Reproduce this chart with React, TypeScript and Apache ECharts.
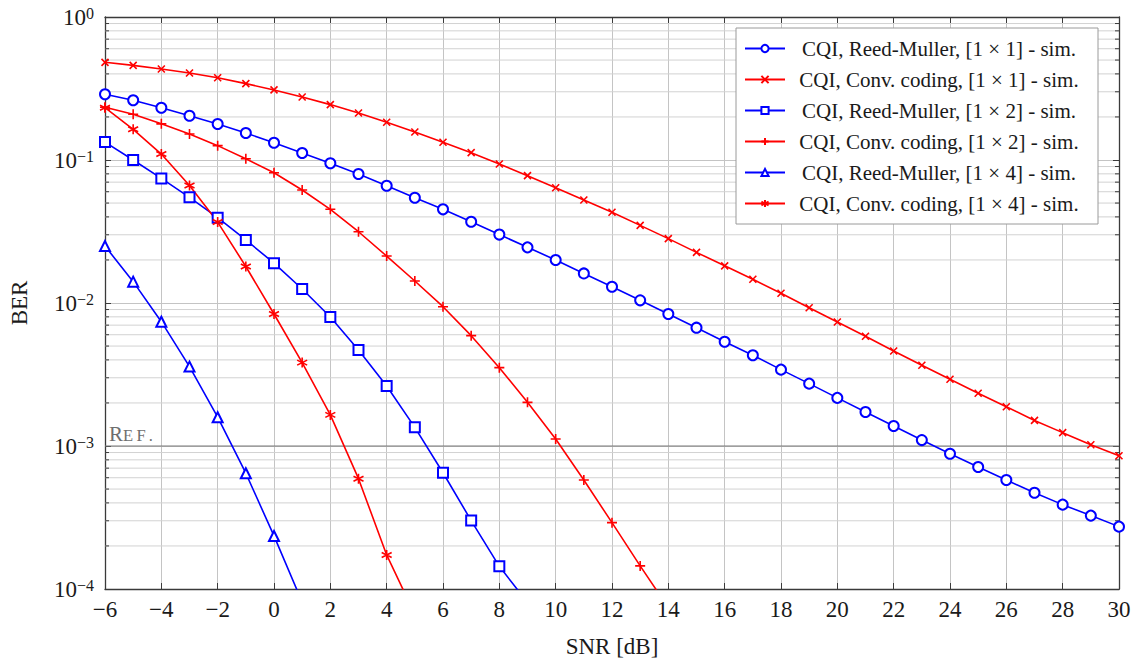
import React, { useEffect, useRef } from "react";
import * as echarts from "echarts";

// ---- data ----
const SNR = [-6, -5, -4, -3, -2, -1, 0, 1, 2, 3, 4, 5, 6, 7, 8, 9, 10, 11, 12, 13, 14, 15, 16, 17, 18, 19, 20, 21, 22, 23, 24, 25, 26, 27, 28, 29, 30];

const rm1x1 = [0.288, 0.2616, 0.232, 0.204, 0.1786, 0.1545, 0.132, 0.112, 0.0949, 0.0798, 0.0661, 0.0545, 0.0452, 0.037, 0.0301, 0.0245, 0.02, 0.0161, 0.013, 0.01044, 0.00838, 0.00672, 0.00536, 0.00431, 0.00342, 0.00273, 0.00217, 0.00173, 0.00138, 0.0011, 0.000883, 0.000713, 0.000578, 0.000471, 0.000389, 0.000326, 0.000273];
const conv1x1 = [0.482, 0.459, 0.433, 0.406, 0.376, 0.342, 0.309, 0.276, 0.244, 0.213, 0.1835, 0.157, 0.133, 0.1125, 0.0938, 0.0777, 0.064, 0.0525, 0.0431, 0.0349, 0.0282, 0.0226, 0.0182, 0.01465, 0.0117, 0.00927, 0.00736, 0.00585, 0.00462, 0.00367, 0.00293, 0.00234, 0.00188, 0.00151, 0.00124, 0.00102, 0.000855];
const rm1x2 = [0.1335, 0.1, 0.0743, 0.0548, 0.0395, 0.0276, 0.019, 0.01253, 0.00798, 0.00469, 0.00263, 0.00135, 0.00065, 0.000301, 0.000144, 0.0000805];
const conv1x2 = [0.234, 0.209, 0.179, 0.152, 0.126, 0.102, 0.0815, 0.0617, 0.0452, 0.0315, 0.0213, 0.01425, 0.00942, 0.00591, 0.00353, 0.00202, 0.00112, 0.000578, 0.000291, 0.000145, 0.000074];
const rm1x4 = [0.025, 0.0141, 0.0074, 0.00359, 0.00159, 0.000645, 0.000235, 0.000081];
const conv1x4 = [0.232, 0.164, 0.11, 0.0663, 0.0368, 0.018, 0.00838, 0.00383, 0.00165, 0.000591, 0.000173, 0.0000665];

const SERIES_NAMES = [
  "CQI, Reed-Muller, [1 × 1] - sim.",
  "CQI, Conv. coding, [1 × 1] - sim.",
  "CQI, Reed-Muller, [1 × 2] - sim.",
  "CQI, Conv. coding, [1 × 2] - sim.",
  "CQI, Reed-Muller, [1 × 4] - sim.",
  "CQI, Conv. coding, [1 × 4] - sim.",
];
const SERIES_VALUES = [rm1x1, conv1x1, rm1x2, conv1x2, rm1x4, conv1x4];

const X_MIN = -6;
const X_MAX = 30;
const X_STEP = 2;
const Y_MIN = 1e-4;
const Y_MAX = 1;
const REF_BER = 1e-3;
const REF_LABEL_BIG = "R";
const REF_LABEL_SMALL = "E\u2009F\u2009.";
const DECADES = [1e-4, 1e-3, 1e-2, 1e-1];
const MINOR_MULT = [2, 3, 4, 5, 6, 7, 8, 9];
const MINOR_VALUES = DECADES.flatMap((d) => MINOR_MULT.map((m) => +(m * d).toPrecision(3)));

// ---- styles ----
const FONT = "Liberation Serif";
const BLUE = "#0000ff";
const RED = "#ff0000";
const TEXT = "#1a1a1a";
const FRAME = "#3a3a3a";
const REF_COLOR = "#6e6e6e";

const SYM_X = "path://M0,0L10,10M10,0L0,10";
const SYM_PLUS = "path://M5,0L5,10M0,5L10,5";
const SYM_STAR = "path://M5,0L5,10M0.67,2.5L9.33,7.5M0.67,7.5L9.33,2.5";

const SERIES_STYLE = [
  { color: BLUE, symbol: "emptyCircle", size: 10 },
  { color: RED, symbol: SYM_X, size: 7 },
  { color: BLUE, symbol: "emptyRect", size: 10 },
  { color: RED, symbol: SYM_PLUS, size: 10 },
  { color: BLUE, symbol: "emptyTriangle", size: 10 },
  { color: RED, symbol: SYM_STAR, size: 10 },
];

const minus = (n: number) => (n < 0 ? "\u2212" + -n : String(n));

export default function App() {
  const ref = useRef<HTMLDivElement>(null);

  useEffect(() => {
    if (!ref.current) return;
    const chart = echarts.init(ref.current, null, { renderer: "svg" });

    const dataSeries = SERIES_NAMES.map((name, k) => ({
      name,
      type: "line",
      data: SERIES_VALUES[k].map((v, i) => [SNR[i], v]),
      symbol: SERIES_STYLE[k].symbol,
      symbolSize: SERIES_STYLE[k].size,
      showSymbol: true,
      clip: true,
      z: 3,
      lineStyle: { color: SERIES_STYLE[k].color, width: 1.6 },
      itemStyle: {
        color: SERIES_STYLE[k].color,
        borderColor: SERIES_STYLE[k].color,
        borderWidth: 1.6,
      },
    }));

    const tickLen = 4;
    const minorTicks = {
      name: "minorTicks",
      type: "custom",
      silent: true,
      clip: false,
      z: 2,
      data: MINOR_VALUES.map((v) => [X_MIN, v]),
      renderItem: (_p: any, api: any) => {
        const y = api.value(1);
        const pL = api.coord([X_MIN, y]);
        const pR = api.coord([X_MAX, y]);
        return {
          type: "group",
          children: [
            { type: "line", shape: { x1: pL[0], y1: pL[1], x2: pR[0], y2: pR[1] }, style: { stroke: "#d2d2d2", lineWidth: 1 }, z2: 0 },
            { type: "line", shape: { x1: pL[0], y1: pL[1], x2: pL[0] + tickLen, y2: pL[1] }, style: { stroke: FRAME, lineWidth: 1 }, z2: 1 },
            { type: "line", shape: { x1: pR[0] - tickLen, y1: pR[1], x2: pR[0], y2: pR[1] }, style: { stroke: FRAME, lineWidth: 1 }, z2: 1 },
          ],
        };
      },
    };

    const refLine = {
      name: "refLine",
      type: "custom",
      silent: true,
      clip: false,
      z: 2,
      data: [[X_MIN, REF_BER]],
      renderItem: (_p: any, api: any) => {
        const y = api.value(1);
        const pL = api.coord([X_MIN, y]);
        const pR = api.coord([X_MAX, y]);
        return {
          type: "group",
          children: [
            { type: "line", shape: { x1: pL[0], y1: pL[1], x2: pR[0], y2: pR[1] }, style: { stroke: "#7a7a7a", lineWidth: 1.2 } },
            {
              type: "text",
              x: pL[0] + 4,
              y: pL[1] - 2,
              style: { text: REF_LABEL_BIG, fill: REF_COLOR, fontSize: 21, fontFamily: FONT, align: "left", verticalAlign: "bottom" },
            },
            {
              type: "text",
              x: pL[0] + 18,
              y: pL[1] - 2.5,
              style: { text: REF_LABEL_SMALL, fill: REF_COLOR, fontSize: 16.5, fontFamily: FONT, align: "left", verticalAlign: "bottom" },
            },
          ],
        };
      },
    };

    const yLabelRich = {
      b: { fontFamily: FONT, fontSize: 23, color: TEXT, lineHeight: 24, padding: [5, 0, 0, 0], verticalAlign: "bottom" },
      s: { fontFamily: FONT, fontSize: 16, color: TEXT, lineHeight: 16, verticalAlign: "top" },
    };

    const option = {
      animation: false,
      backgroundColor: "#ffffff",
      textStyle: { fontFamily: FONT },
      grid: { left: 104, right: 22, top: 17, bottom: 75, containLabel: false },
      legend: {
        data: SERIES_NAMES,
        z: 20,
        orient: "vertical",
        right: 43,
        top: 28,
        backgroundColor: "#ffffff",
        borderColor: "#9a9a9a",
        borderWidth: 1,
        borderRadius: 0,
        padding: [10, 10, 10, 8],
        itemGap: 10,
        itemWidth: 40,
        itemHeight: 9,
        selectedMode: false,
        formatter: (name: string) => "{c|" + name + "}",
        textStyle: {
          fontFamily: FONT,
          fontSize: 21,
          color: TEXT,
          rich: { c: { fontFamily: FONT, fontSize: 21, color: TEXT, width: 298, align: "center", lineHeight: 18 } },
        },
      },
      xAxis: [
        {
          type: "value",
          min: X_MIN,
          max: X_MAX,
          interval: X_STEP,
          position: "bottom",
          axisLine: { show: true, onZero: false, lineStyle: { color: FRAME, width: 1.3 } },
          axisTick: { show: true, inside: true, length: 6, lineStyle: { color: FRAME } },
          axisLabel: { formatter: (v: number) => minus(v), fontFamily: FONT, fontSize: 23, color: TEXT, margin: 9 },
          splitLine: { show: true, lineStyle: { color: "#c4c4c4", width: 1 } },
          name: "SNR [dB]",
          nameLocation: "middle",
          nameGap: 46,
          nameTextStyle: { fontFamily: FONT, fontSize: 23, color: TEXT },
        },
        {
          type: "value",
          min: X_MIN,
          max: X_MAX,
          interval: X_STEP,
          position: "top",
          axisLine: { show: true, onZero: false, lineStyle: { color: FRAME, width: 1.3 } },
          axisTick: { show: true, inside: true, length: 6, lineStyle: { color: FRAME } },
          axisLabel: { show: false },
          splitLine: { show: false },
        },
      ],
      yAxis: [
        {
          type: "log",
          logBase: 10,
          min: Y_MIN,
          max: Y_MAX,
          interval: 1,
          position: "left",
          axisLine: { show: true, onZero: false, lineStyle: { color: FRAME, width: 1.3 } },
          axisTick: { show: true, inside: true, length: 6, lineStyle: { color: FRAME } },
          axisLabel: {
            margin: 11,
            formatter: (v: number) => "{b|10}{s|" + minus(Math.round(Math.log10(v))) + "}",
            rich: yLabelRich,
          },
          splitLine: { show: true, lineStyle: { color: "#c4c4c4", width: 1 } },
          name: "BER",
          nameLocation: "middle",
          nameGap: 74,
          nameRotate: 90,
          nameTextStyle: { fontFamily: FONT, fontSize: 23, color: TEXT },
        },
        {
          type: "log",
          logBase: 10,
          min: Y_MIN,
          max: Y_MAX,
          interval: 1,
          position: "right",
          axisLine: { show: true, onZero: false, lineStyle: { color: FRAME, width: 1.3 } },
          axisTick: { show: true, inside: true, length: 6, lineStyle: { color: FRAME } },
          axisLabel: { show: false },
          splitLine: { show: false },
        },
      ],
      series: [minorTicks, refLine, ...dataSeries],
    };

    chart.setOption(option as any);
    return () => chart.dispose();
  }, []);

  return <div ref={ref} style={{ position: "absolute", left: 0, top: 0, width: 1141, height: 664 }} />;
}
